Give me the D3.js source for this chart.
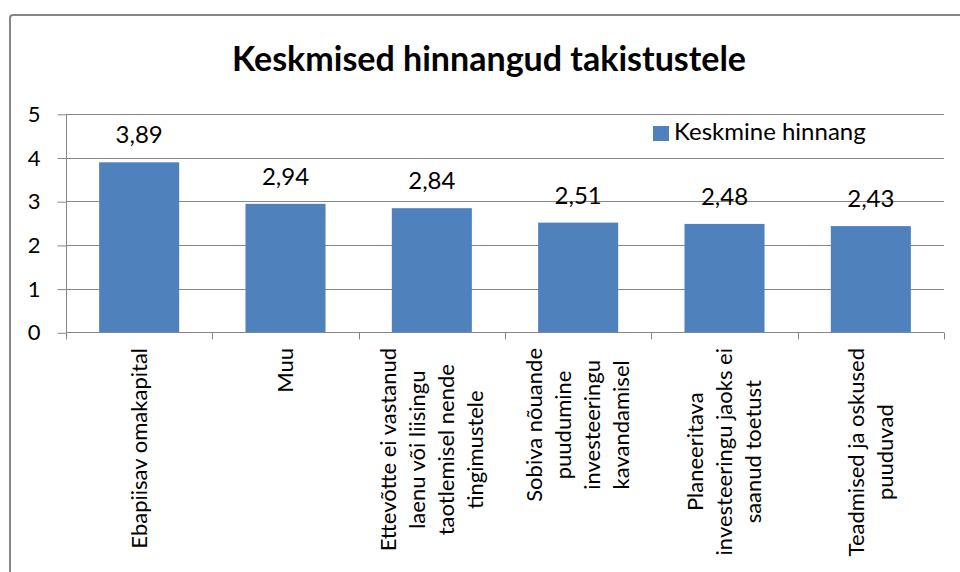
<!DOCTYPE html>
<html lang="et">
<head>
  <meta charset="UTF-8">
  <title>Keskmised hinnangud takistustele</title>
  <script src="https://d3js.org/d3.v7.min.js"></script>
  <style>
    body {
      margin: 0;
      padding: 0;
      background: #fff;
      overflow: hidden;
    }
    svg text {
      font-family: Lato, "Liberation Sans", sans-serif;
      fill: #000;
    }
  </style>
</head>
<body>
  <div id="chart"></div>

  <script>
    // data
    const categories = [
      "Ebapiisav omakapital",
      "Muu",
      "Ettevõtte ei vastanud laenu või liisingu taotlemisel nende tingimustele",
      "Sobiva nõuande puudumine investeeringu kavandamisel",
      "Planeeritava investeeringu jaoks ei saanud toetust",
      "Teadmised ja oskused puuduvad"
    ];
    const categoryLines = [
      ["Ebapiisav omakapital"],
      ["Muu"],
      ["Ettevõtte ei vastanud", "laenu või liisingu", "taotlemisel nende", "tingimustele"],
      ["Sobiva nõuande", "puudumine", "investeeringu", "kavandamisel"],
      ["Planeeritava", "investeeringu jaoks ei", "saanud toetust"],
      ["Teadmised ja oskused", "puuduvad"]
    ];
    const values = [3.89, 2.94, 2.84, 2.51, 2.48, 2.43];
    const yTicks = [0, 1, 2, 3, 4, 5];
    const seriesName = "Keskmine hinnang";
    const title = "Keskmised hinnangud takistustele";

    const width = 960;
    const height = 572;
    const barColor = "#4F81BD";
    const gridColor = "#868686";

    const plot = { left: 66, right: 944, top: 113.8, bottom: 332.3 };

    const svg = d3.select("#chart")
                  .append("svg")
                  .attr("width", width)
                  .attr("height", height);

    svg.append("rect")
       .attr("width", width)
       .attr("height", height)
       .attr("fill", "#fff");

    // outer chart border (cut off at right and bottom)
    svg.append("rect")
       .attr("x", 10)
       .attr("y", 15)
       .attr("width", 1000)
       .attr("height", 700)
       .attr("rx", 3)
       .attr("fill", "none")
       .attr("stroke", gridColor)
       .attr("stroke-width", 2);

    svg.append("text")
       .attr("x", 489)
       .attr("y", 71)
       .attr("text-anchor", "middle")
       .style("font-size", "34px")
       .style("font-weight", "bold")
       .text(title);

    const x = d3.scaleBand()
                .domain(categories)
                .range([plot.left, plot.right])
                .padding(0);

    const y = d3.scaleLinear()
                .domain([0, 5])
                .range([plot.bottom, plot.top]);

    // gridlines
    svg.selectAll(".grid")
       .data(yTicks.filter(d => d > 0))
       .enter()
       .append("line")
       .attr("class", "grid")
       .attr("x1", plot.left)
       .attr("x2", plot.right)
       .attr("y1", d => Math.round(y(d)) + 0.5)
       .attr("y2", d => Math.round(y(d)) + 0.5)
       .attr("stroke", gridColor)
       .attr("stroke-width", 1);

    // y axis
    const yAxis = svg.append("g")
       .attr("transform", `translate(${plot.left + 0.5},0.5)`)
       .call(d3.axisLeft(y).tickValues(yTicks).tickSize(9).tickPadding(17).tickFormat(d3.format("d")));
    yAxis.select(".domain").attr("stroke", gridColor).attr("d", `M0,${plot.top}V${plot.bottom}`);
    yAxis.selectAll(".tick line").attr("stroke", gridColor);
    yAxis.selectAll(".tick text")
         .style("font-size", "22px")
         .attr("fill", "#000");

    // bars
    const barW = x.bandwidth() * 0.547;
    svg.selectAll(".bar")
       .data(values)
       .enter()
       .append("rect")
       .attr("class", "bar")
       .attr("x", (d, i) => x(categories[i]) + (x.bandwidth() - barW) / 2)
       .attr("y", d => y(d))
       .attr("width", barW)
       .attr("height", d => y(0) - y(d))
       .attr("fill", barColor);

    // x axis
    const xAxis = svg.append("g")
       .attr("transform", `translate(0,${Math.round(plot.bottom) + 0.5})`);
    xAxis.append("line")
         .attr("x1", plot.left)
         .attr("x2", plot.right)
         .attr("stroke", gridColor);
    xAxis.selectAll(".xtick")
         .data(d3.range(categories.length + 1))
         .enter()
         .append("line")
         .attr("class", "xtick")
         .attr("x1", i => Math.round(plot.left + i * x.step()) + 0.5)
         .attr("x2", i => Math.round(plot.left + i * x.step()) + 0.5)
         .attr("y1", 0)
         .attr("y2", 7)
         .attr("stroke", gridColor);

    // value labels
    const fmt = d3.formatLocale({ decimal: ",", thousands: " ", grouping: [3], currency: ["", ""] }).format(".2f");
    svg.selectAll(".value-label")
       .data(values)
       .enter()
       .append("text")
       .attr("class", "value-label")
       .attr("x", (d, i) => x(categories[i]) + x.bandwidth() / 2)
       .attr("y", d => y(d) - 19)
       .attr("text-anchor", "middle")
       .style("font-size", "24px")
       .text(d => fmt(d));

    // category labels, rotated, lines centred on each other
    const lineH = 29;
    const labelTop = 348;
    categoryLines.forEach((lines, i) => {
      const cx = x(categories[i]) + x.bandwidth() / 2;
      const g = svg.append("g");
      const texts = g.selectAll("text")
         .data(lines)
         .enter()
         .append("text")
         .attr("text-anchor", "middle")
         .attr("dy", "0.35em")
         .style("font-size", "22px")
         .text(d => d);
      let maxLen = 0;
      texts.each(function () { maxLen = Math.max(maxLen, this.getComputedTextLength()); });
      const n = lines.length;
      texts.attr("transform", (d, j) =>
        `translate(${cx + (j - (n - 1) / 2) * lineH},${labelTop + maxLen / 2}) rotate(-90)`);
    });

    // legend
    const legend = svg.append("g").attr("transform", "translate(653,126)");
    legend.append("rect")
          .attr("width", 16)
          .attr("height", 15)
          .attr("fill", barColor);
    legend.append("text")
          .attr("x", 21)
          .attr("y", 14)
          .style("font-size", "24px")
          .text(seriesName);
  </script>
</body>
</html>
